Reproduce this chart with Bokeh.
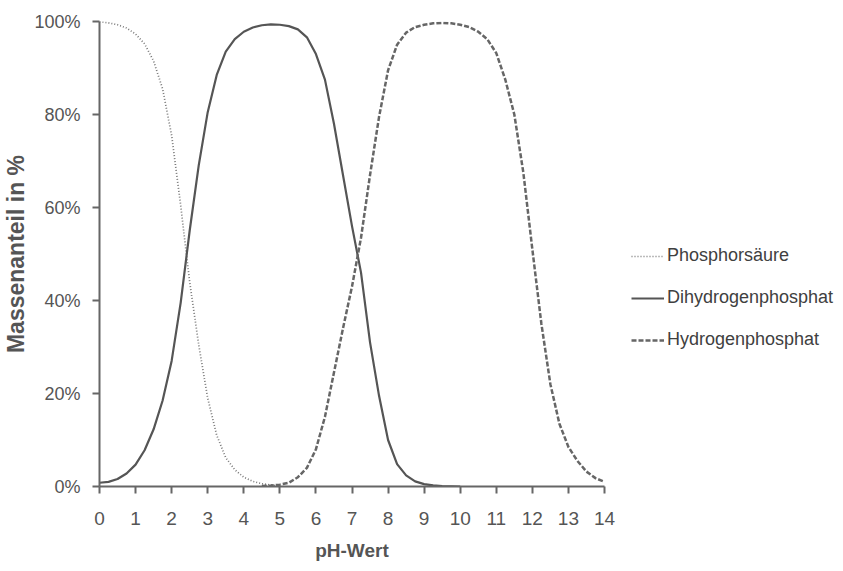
from bokeh.plotting import figure
from bokeh.models import (Range1d, FixedTicker, PrintfTickFormatter, Legend, LegendItem)
from bokeh.embed import file_html
from bokeh.resources import INLINE

# ---- data ----
ph_h3po4 = [0, 0.25, 0.5, 0.75, 1, 1.25, 1.5, 1.75, 2, 2.25, 2.5, 2.75, 3, 3.25,
            3.5, 3.75, 4, 4.25, 4.5, 4.75, 5]
h3po4 = [100, 99.7, 99.3, 98.6, 97.3, 95.2, 91.5, 85.5, 75.5, 60.5, 44, 30.5, 19, 11,
         6.2, 3.6, 2, 1.1, 0.6, 0.3, 0.1]

ph_h2po4 = [0, 0.25, 0.5, 0.75, 1, 1.25, 1.5, 1.75, 2, 2.25, 2.5, 2.75, 3, 3.25, 3.5,
            3.75, 4, 4.25, 4.5, 4.75, 5, 5.25, 5.5, 5.75, 6, 6.25, 6.5, 6.75, 7, 7.25,
            7.5, 7.75, 8, 8.25, 8.5, 8.75, 9, 9.25, 9.5, 9.75, 10]
h2po4 = [0.8, 1.0, 1.6, 2.8, 4.7, 7.8, 12.3, 18.5, 27, 39.5, 55, 69, 80.5, 88.5, 93.5,
         96.2, 97.8, 98.7, 99.2, 99.4, 99.3, 99, 98.3, 96.6, 93, 87.5, 78, 67, 56, 46,
         31, 19.5, 10, 4.8, 2.4, 1.1, 0.5, 0.25, 0.1, 0.05, 0]

ph_hpo4 = [4.5, 4.75, 5, 5.25, 5.5, 5.75, 6, 6.25, 6.5, 6.75, 7, 7.25, 7.5, 7.75, 8,
           8.25, 8.5, 8.75, 9, 9.25, 9.5, 9.75, 10, 10.25, 10.5, 10.75, 11, 11.25,
           11.5, 11.75, 12, 12.25, 12.5, 12.75, 13, 13.25, 13.5, 13.75, 14]
hpo4 = [0.1, 0.2, 0.4, 0.8, 2, 4, 8, 15, 24.5, 34, 43, 53.5, 67, 79.5, 89.5,
        95, 97.6, 98.8, 99.3, 99.6, 99.7, 99.6, 99.3, 98.8, 97.8, 96.2, 93.2, 87.5,
        80, 67.5, 51, 35, 22, 13.5, 8.5, 5.5, 3.2, 1.8, 1]

x_ticks = list(range(0, 15))
y_ticks = [0, 20, 40, 60, 80, 100]
series_names = ["Phosphorsäure", "Dihydrogenphosphat", "Hydrogenphosphat"]

FONT = "Liberation Sans"
TXT = "#555555"

p = figure(frame_width=505, frame_height=465, output_backend="svg",
           toolbar_location=None, x_range=Range1d(0, 14), y_range=Range1d(0, 100),
           min_border_left=88, min_border_right=230, min_border_top=21,
           min_border_bottom=68, background_fill_color="white",
           border_fill_color="white")
p.outline_line_color = None
p.xgrid.visible = False
p.ygrid.visible = False

r1 = p.line(ph_h3po4, h3po4, line_color="#7a7a7a", line_width=1.7, line_dash="1 2")
r2 = p.line(ph_h2po4, h2po4, line_color="#555555", line_width=2.2)
r3 = p.line(ph_hpo4, hpo4, line_color="#666666", line_width=2.5, line_dash="5 2")

for ax in (p.xaxis[0], p.yaxis[0]):
    ax.axis_line_color = "#666666"
    ax.axis_line_width = 2
    ax.major_tick_line_color = "#666666"
    ax.major_tick_line_width = 2
    ax.major_tick_out = 7
    ax.major_tick_in = 0
    ax.minor_tick_out = 0
    ax.minor_tick_in = 0
    ax.major_label_text_font = FONT
    ax.major_label_text_font_size = "18px"
    ax.major_label_text_color = TXT
    ax.axis_label_text_font = FONT
    ax.axis_label_text_font_style = "bold"
    ax.axis_label_text_color = TXT

p.xaxis.ticker = FixedTicker(ticks=x_ticks)
p.yaxis.ticker = FixedTicker(ticks=y_ticks)
p.yaxis.formatter = PrintfTickFormatter(format="%d%%")
p.xaxis.major_label_standoff = 18
p.xaxis.major_label_text_font_size = "19px"
p.yaxis.major_label_standoff = 12
p.xaxis.axis_label = "pH-Wert"
p.yaxis.axis_label = "Massenanteil in %"
p.xaxis.axis_label_text_font_size = "19px"
p.yaxis.axis_label_text_font_size = "23px"
p.xaxis.axis_label_standoff = 12
p.yaxis.axis_label_standoff = 2

legend = Legend(items=[LegendItem(label=series_names[0], renderers=[r1]),
                       LegendItem(label=series_names[1], renderers=[r2]),
                       LegendItem(label=series_names[2], renderers=[r3])],
                location=(27, 136))
legend.border_line_color = None
legend.background_fill_alpha = 0
legend.padding = 0
legend.margin = 0
legend.glyph_width = 33
legend.glyph_height = 20
legend.label_height = 20
legend.spacing = 21
legend.label_standoff = 3
legend.label_text_font = FONT
legend.label_text_font_size = "18px"
legend.label_text_color = "#404040"
p.add_layout(legend, "right")

open("out.html", "w").write(file_html(p, INLINE))
